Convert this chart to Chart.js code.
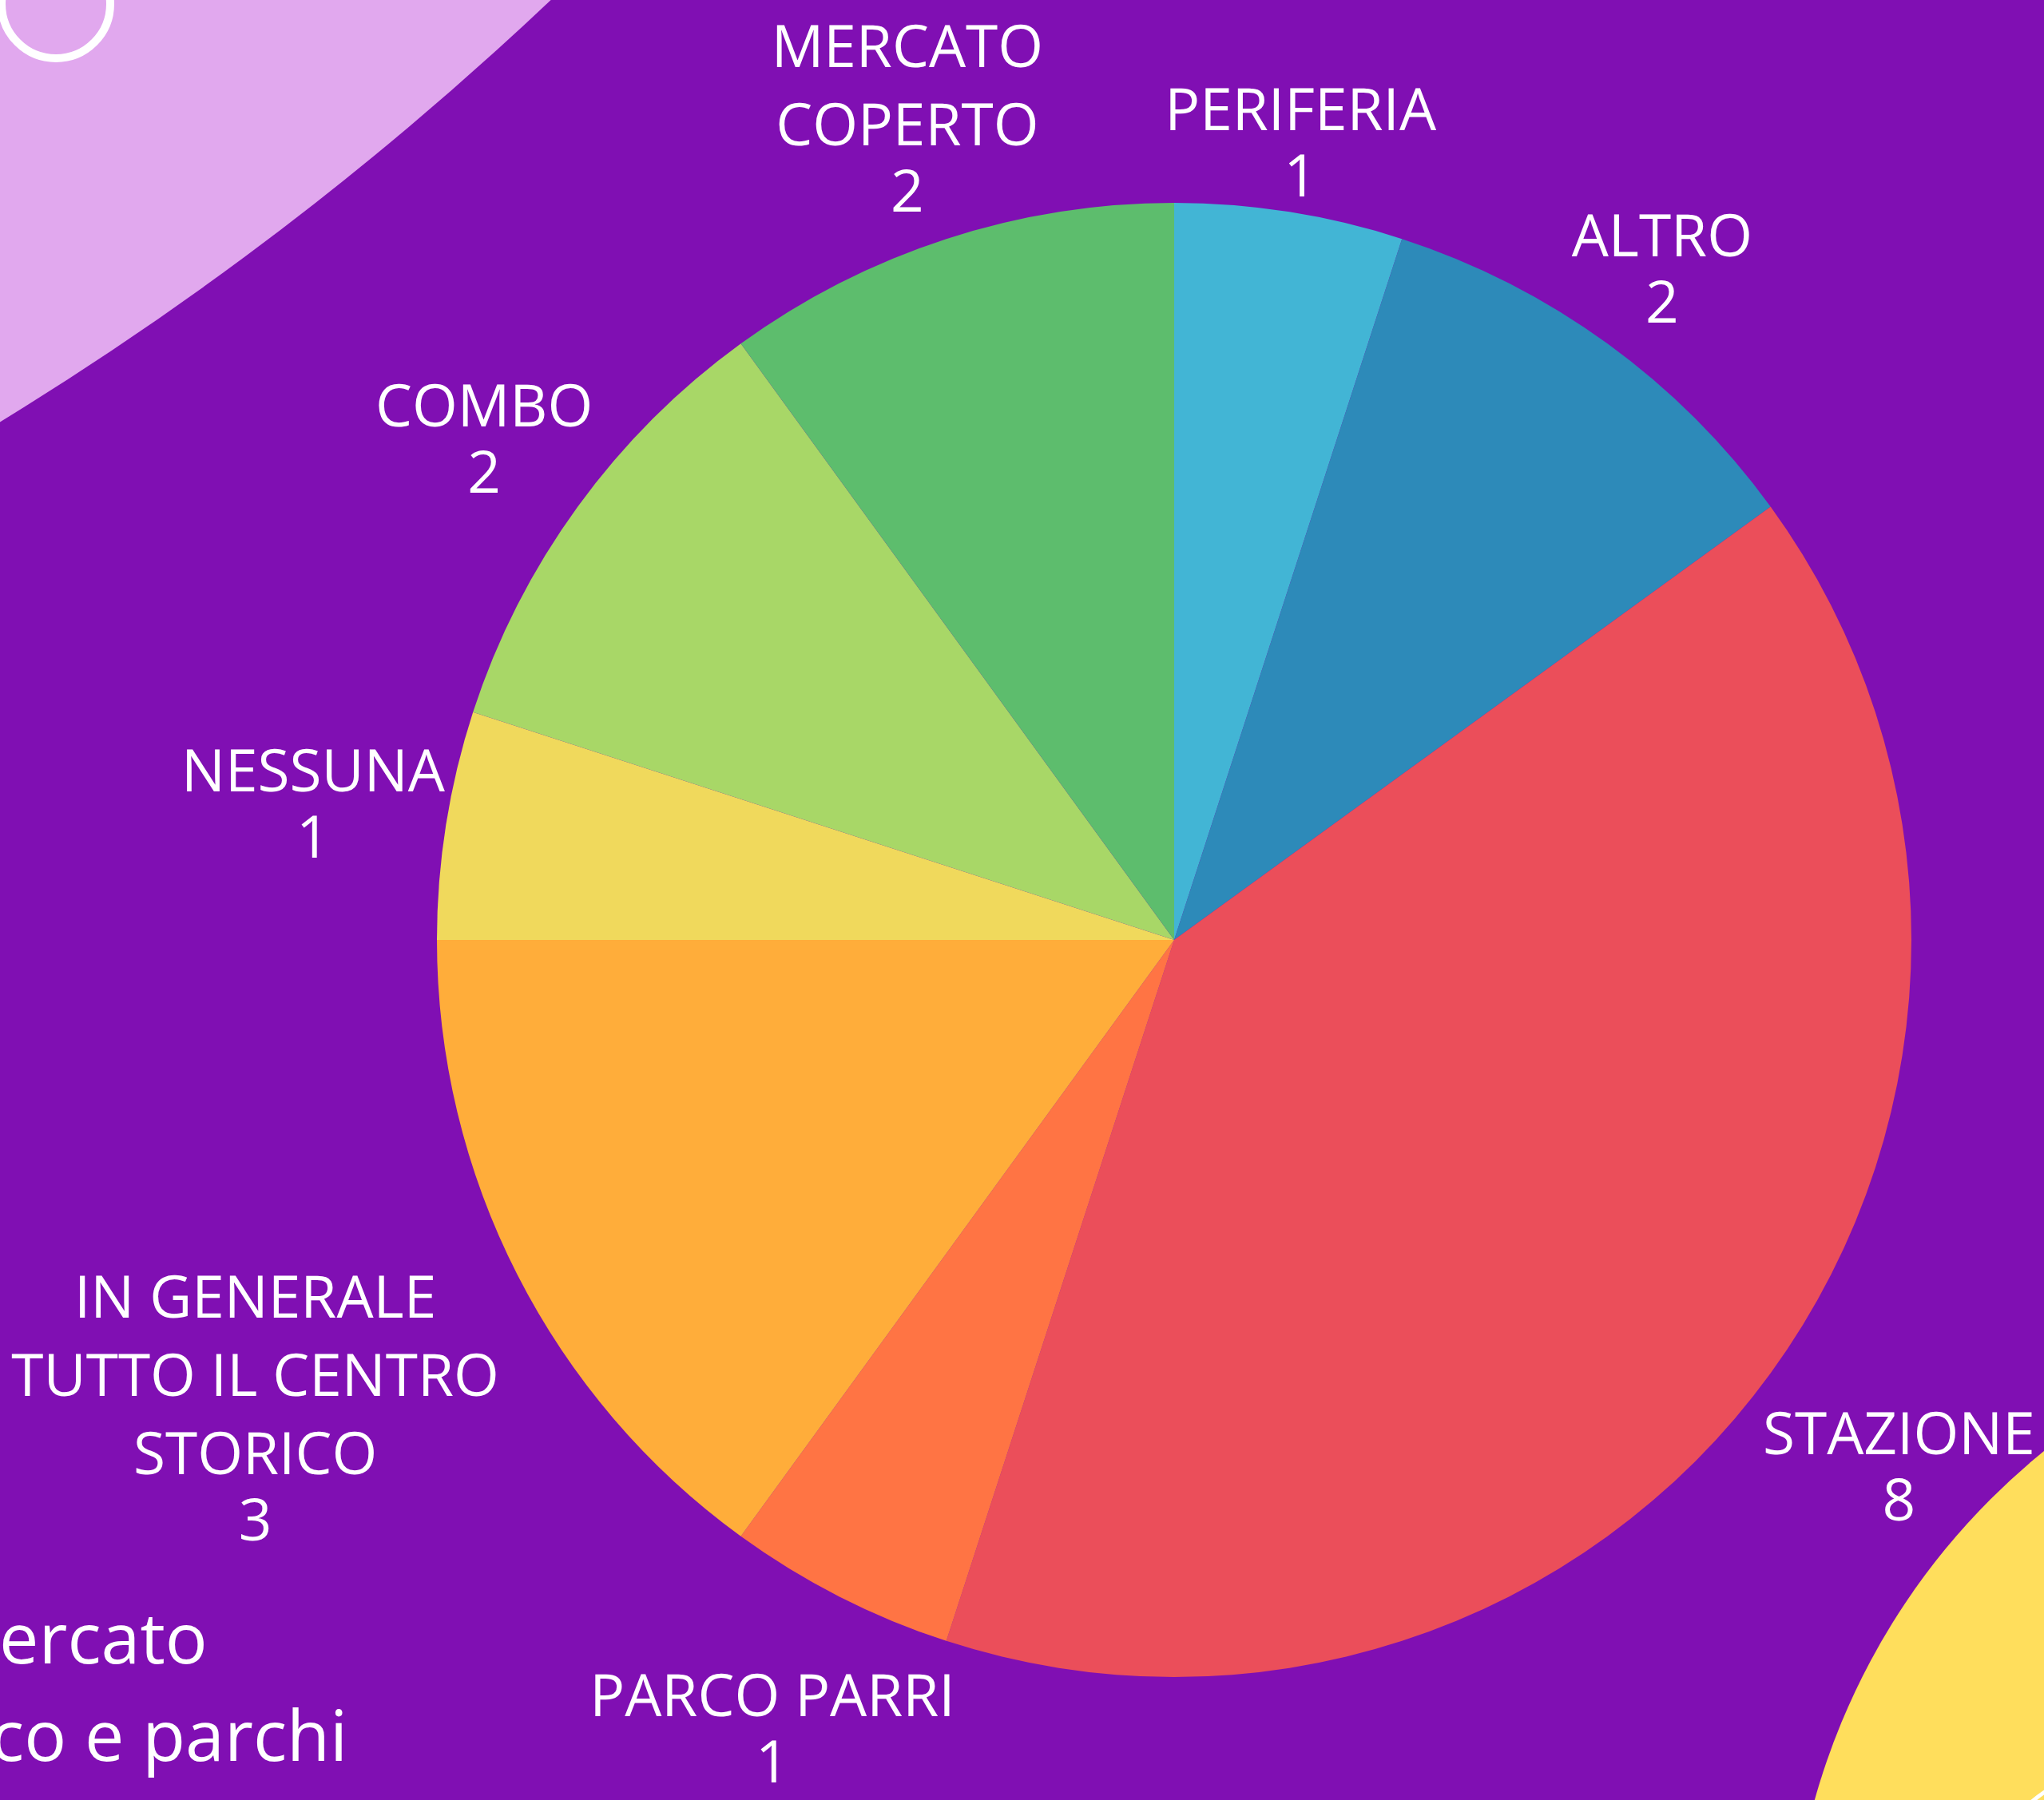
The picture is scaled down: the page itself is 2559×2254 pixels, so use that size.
<!DOCTYPE html>
<html>
<head>
<meta charset="utf-8">
<script src="https://cdn.jsdelivr.net/npm/chart.js@4.4.1/dist/chart.umd.min.js"></script>
<style>
html,body{margin:0;padding:0;width:2559px;height:2254px;overflow:hidden;background:#800FB3;}
#stage{position:relative;width:2559px;height:2254px;overflow:hidden;background:#800FB3;font-family:"Open Sans",sans-serif;}
.deco{position:absolute;border-radius:50%;box-sizing:border-box;}
#pink{left:-6338px;top:-7187px;width:8328px;height:8328px;background:#E1A8EE;}
#ring{left:-3px;top:-68px;width:146px;height:146px;border:10px solid #ffffff;background:transparent;}
#yellow{left:2240px;top:1625px;width:1722px;height:1722px;background:#FFDE5C;}
#ring2{left:2470px;top:2207px;width:404px;height:404px;border:5px solid #ffffff;background:transparent;}
.side{position:absolute;color:#ffffff;font-size:88px;line-height:1;white-space:nowrap;font-family:"Open Sans",sans-serif;}
#t1{left:-1px;top:2005px;}
#t2{left:-12px;top:2127px;}
#c{position:absolute;left:0;top:0;}
</style>
</head>
<body>
<div id="stage">
  <div class="deco" id="pink"></div>
  <div class="deco" id="ring"></div>
  <div class="deco" id="yellow"></div>
  <div class="deco" id="ring2"></div>
  <div class="side" id="t1">ercato</div>
  <div class="side" id="t2">co e parchi</div>
  <canvas id="c" width="2559" height="2254"></canvas>
</div>
<script>
// ---- data ----
const categories = ['PERIFERIA','ALTRO','STAZIONE','PARCO PARRI','IN GENERALE TUTTO IL CENTRO STORICO','NESSUNA','COMBO','MERCATO COPERTO'];
const labelLines = [['PERIFERIA'],['ALTRO'],['STAZIONE'],['PARCO PARRI'],['IN GENERALE','TUTTO IL CENTRO','STORICO'],['NESSUNA'],['COMBO'],['MERCATO','COPERTO']];
const values = [1, 2, 8, 1, 3, 1, 2, 2];
const colors = ['#42B5D5','#2D8AB9','#EB4E5A','#FF7444','#FFAD3A','#F0D95C','#A8D767','#5DBD6D'];

// ---- label styling ----
const FS = 73, NAME_LH = 98, VAL_LH = 83, CAP = 52, GAP_UP = -5, GAP_DOWN = 21;

const outLabels = {
  id: 'outLabels',
  afterDatasetsDraw(chart) {
    const ctx = chart.ctx;
    const meta = chart.getDatasetMeta(0);
    const ds = chart.data.datasets[0];
    ctx.save();
    ctx.font = FS + 'px "Open Sans"';
    ctx.fillStyle = '#ffffff';
    ctx.textAlign = 'center';
    ctx.textBaseline = 'alphabetic';
    meta.data.forEach((arc, i) => {
      const p = arc.getProps(['x','y','startAngle','endAngle','outerRadius'], true);
      const mid = (p.startAngle + p.endAngle) / 2;
      const lines = labelLines[i].concat([String(ds.data[i])]);
      const n = lines.length;
      const span = (n - 2) * NAME_LH + VAL_LH;
      const w = Math.max(...lines.map(l => ctx.measureText(l).width));
      const hw = w / 2, hh = (span + CAP) / 2;
      const dx = Math.cos(mid), dy = Math.sin(mid);
      const gap = dy > 0 ? GAP_DOWN : GAP_UP;
      const d = p.outerRadius + gap + hw * Math.abs(dx) + hh * Math.abs(dy);
      const bx = p.x + dx * d, by = p.y + dy * d;
      let y = by - span / 2;
      lines.forEach((l, j) => {
        ctx.fillText(l, bx, y + CAP / 2);
        y += (j < n - 2) ? NAME_LH : VAL_LH;
      });
    });
    ctx.restore();
  }
};

function draw() {
  new Chart(document.getElementById('c'), {
    type: 'pie',
    data: {
      labels: categories,
      datasets: [{ data: values, backgroundColor: colors, borderWidth: 0 }]
    },
    options: {
      responsive: false,
      animation: false,
      layout: { padding: { left: 547, right: 166, top: 254, bottom: 154 } },
      plugins: { legend: { display: false }, tooltip: { enabled: false } }
    },
    plugins: [outLabels]
  });
}
if (document.fonts && document.fonts.load) {
  document.fonts.load(FS + 'px "Open Sans"').then(draw, draw);
} else { draw(); }
</script>
</body>
</html>
